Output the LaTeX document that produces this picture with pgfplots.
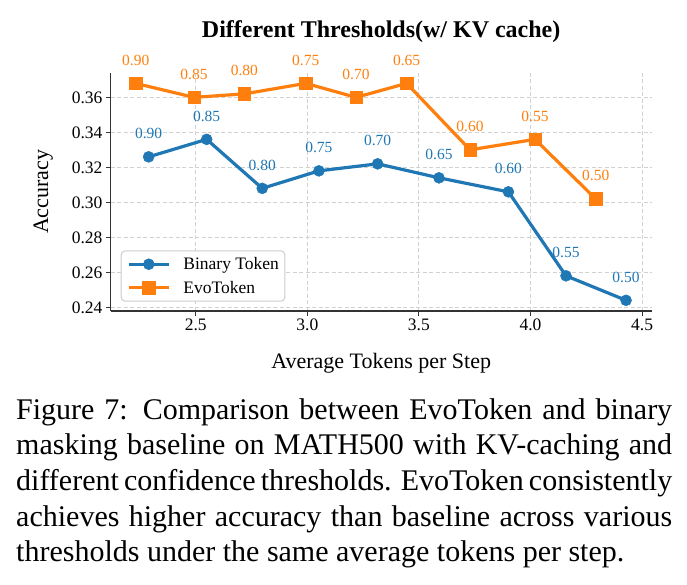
\documentclass[border=0pt]{standalone}
\usepackage{fontspec}
\setmainfont{Liberation Serif}
\usepackage{pgfplots}
\pgfplotsset{compat=1.18}
\usepackage{pgfplotstable}
\definecolor{tabblue}{HTML}{1F77B4}
\definecolor{taborange}{HTML}{FF7F0E}

\pgfplotstableread{
x y lab
2.289 0.326 0.90
2.549 0.336 0.85
2.798 0.308 0.80
3.052 0.318 0.75
3.315 0.322 0.70
3.590 0.314 0.65
3.901 0.306 0.60
4.159 0.258 0.55
4.428 0.244 0.50
}\binary

\pgfplotstableread{
x y lab
2.231 0.368 0.90
2.492 0.360 0.85
2.718 0.362 0.80
2.993 0.368 0.75
3.218 0.360 0.70
3.445 0.368 0.65
3.729 0.330 0.60
4.020 0.336 0.55
4.292 0.302 0.50
}\evo

\begin{document}
\begin{tikzpicture}[x=1pt,y=1pt]
\useasboundingbox (0,0) rectangle (687,585);
\begin{axis}[
  scale only axis, width=541pt, height=238.3pt,
  at={(110.7pt,274pt)}, anchor=south west,
  xmin=2.119, xmax=4.543, ymin=0.2379, ymax=0.3741,
  clip=false,
  axis x line*=bottom, axis y line*=left,
  axis line style={-, line width=1.2pt, black!80},
  xtick={2.5,3.0,3.5,4.0,4.5},
  ytick={0.24,0.26,0.28,0.30,0.32,0.34,0.36},
  tick align=outside, major tick length=4.7pt,
  tick style={line width=1pt, black!80},
  x tick label style={/pgf/number format/fixed, /pgf/number format/fixed zerofill, /pgf/number format/precision=1},
  y tick label style={/pgf/number format/fixed, /pgf/number format/fixed zerofill, /pgf/number format/precision=2},
  /pgf/number format/assume math mode=true,
  tick label style={font=\fontsize{17.5}{21}\selectfont},
  grid=major,
  grid style={dash pattern=on 4pt off 2.5pt, black!18, line width=0.9pt},
  title={Different Thresholds(w/ KV cache)},
  title style={font=\fontsize{24}{28}\selectfont\bfseries, at={(axis description cs:0.5,1)}, anchor=base, yshift=28.7pt, inner sep=0pt},
  xlabel={Average Tokens per Step},
  xlabel style={font=\fontsize{22}{26}\selectfont, at={(axis description cs:0.5,0)}, anchor=base, yshift=-58pt, inner sep=0pt},
  ylabel={Accuracy},
  ylabel style={font=\fontsize{22}{26}\selectfont, at={(axis description cs:-0.1246,0.5)}, anchor=center, inner sep=0pt},
  legend style={at={(0.0185,0.039)}, anchor=south west, draw=black!20, line width=1pt, rounded corners=4pt, fill=white, font=\fontsize{17.5}{21}\selectfont, inner xsep=6pt, inner ysep=6.5pt, row sep=10pt, column sep=13pt, nodes={inner sep=0pt}},
  legend cell align=left,
  legend image code/.code={\draw[mark repeat=2,mark phase=2,#1] plot coordinates {(0pt,0pt) (20pt,0pt) (40pt,0pt)};},
  point meta=explicit symbolic,
  nodes near coords,
]
\addplot[tabblue, line width=3.2pt, mark=*, mark size=5.5pt, mark options={solid, fill=tabblue, line width=0.5pt},
  every node near coord/.append style={anchor=center, yshift=23pt, font=\fontsize{15.5}{18}\selectfont, text=tabblue, inner sep=0pt}]
  table[x=x, y=y, meta=lab] {\binary};
\addlegendentry{Binary Token}
\addplot[taborange, line width=3.2pt, mark=square*, mark size=6.2pt, mark options={solid, fill=taborange, line width=0.5pt},
  every node near coord/.append style={anchor=center, yshift=23pt, font=\fontsize{15.5}{18}\selectfont, text=taborange, inner sep=0pt}]
  table[x=x, y=y, meta=lab] {\evo};
\addlegendentry{EvoToken}
\end{axis}
\begin{scope}[font=\fontsize{30}{36}\selectfont]
\node[anchor=base west, inner sep=0pt] at (16,165.7) {\makebox[656pt][s]{Figure 7: Comparison between EvoToken and binary}};
\node[anchor=base west, inner sep=0pt] at (16,130.1) {\makebox[656pt][s]{masking baseline on MATH500 with KV-caching and}};
\node[anchor=base west, inner sep=0pt] at (16,94.5) {\makebox[656pt][s]{different confidence thresholds. EvoToken consistently}};
\node[anchor=base west, inner sep=0pt] at (16,58.9) {\makebox[656pt][s]{achieves higher accuracy than baseline across various}};
\node[anchor=base west, inner sep=0pt] at (16,23.3) {thresholds under the same average tokens per step.};
\end{scope}
\end{tikzpicture}
\end{document}
